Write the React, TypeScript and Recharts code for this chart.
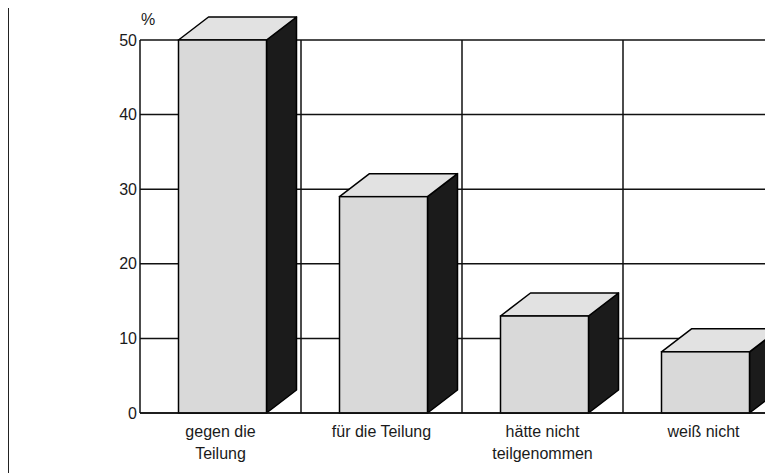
import React from 'react';
import { BarChart, Bar, XAxis, YAxis, CartesianGrid, ReferenceLine, Label } from 'recharts';

const categories = ['gegen die Teilung', 'für die Teilung', 'hätte nicht teilgenommen', 'weiß nicht'];
const categoryLines = [['gegen die', 'Teilung'], ['für die Teilung'], ['hätte nicht', 'teilgenommen'], ['weiß nicht']];
const values = [50, 29, 13, 8.2];
const yTicks = [0, 10, 20, 30, 40, 50];

const data = categories.map((c, i) => ({ name: c, value: values[i] }));

const FONT = '"Liberation Sans", Arial, Helvetica, sans-serif';
const DX = 30;
const DY = 23;
const SHIFT = 1.5;

const Box3D = (props: any) => {
  const { x, y, width, height } = props;
  const x0 = x + SHIFT;
  const x1 = x0 + width;
  const yb = y + height;
  const top = `${x0},${y} ${x0 + DX},${y - DY} ${x1 + DX},${y - DY} ${x1},${y}`;
  const side = `${x1},${y} ${x1 + DX},${y - DY} ${x1 + DX},${yb - DY} ${x1},${yb}`;
  return (
    <g>
      <polygon points={side} fill="#1b1b1b" stroke="#000" strokeWidth={1.5} strokeLinejoin="round" />
      <polygon points={top} fill="#e2e2e2" stroke="#000" strokeWidth={1.5} strokeLinejoin="round" />
      <rect x={x0} y={y} width={width} height={height} fill="#d9d9d9" stroke="#000" strokeWidth={1.5} />
    </g>
  );
};

const XTick = (props: any) => {
  const { x, y, index } = props;
  const lines = categoryLines[index] || [];
  return (
    <g>
      {lines.map((l: string, i: number) => (
        <text key={i} x={x} y={y + 24 + i * 22} textAnchor="middle" fontFamily={FONT} fontSize={16} fill="#1a1a1a">
          {l}
        </text>
      ))}
    </g>
  );
};

export default function App() {
  return (
    <div style={{ marginLeft: -1, borderLeft: '2px solid #222', width: 756, height: 465, overflow: 'hidden' }}>
      <BarChart
        width={795}
        height={465}
        data={data}
        margin={{ top: 32, right: 20, left: 0, bottom: 0 }}
        barCategoryGap={0}
      >
        <CartesianGrid vertical={false} stroke="#111" strokeWidth={1.5} strokeOpacity={1} />
        <XAxis
          dataKey="name"
          height={60}
          axisLine={{ stroke: '#111', strokeWidth: 1.5 }}
          tickLine={false}
          tickSize={0}
          tickMargin={0}
          interval={0}
          tick={<XTick />}
        />
        <YAxis
          width={131}
          domain={[0, 50]}
          ticks={yTicks}
          interval={0}
          axisLine={{ stroke: '#111', strokeWidth: 1.5 }}
          tickLine={false}
          tickSize={2}
          tickMargin={1}
          tick={{ fontFamily: FONT, fontSize: 16, fill: '#1a1a1a' }}
        >
          <Label
            content={(p: any) => {
              const vb = p.viewBox || {};
              return (
                <text x={vb.x + vb.width + 1} y={vb.y - 15} fontFamily={FONT} fontSize={16} fill="#1a1a1a">
                  %
                </text>
              );
            }}
          />
        </YAxis>
        {categories.map((c) => (
          <ReferenceLine key={c} x={c} position="end" stroke="#111" strokeWidth={1.5} ifOverflow="visible" />
        ))}
        <Bar dataKey="value" barSize={88} shape={<Box3D />} isAnimationActive={false} />
      </BarChart>
    </div>
  );
}
